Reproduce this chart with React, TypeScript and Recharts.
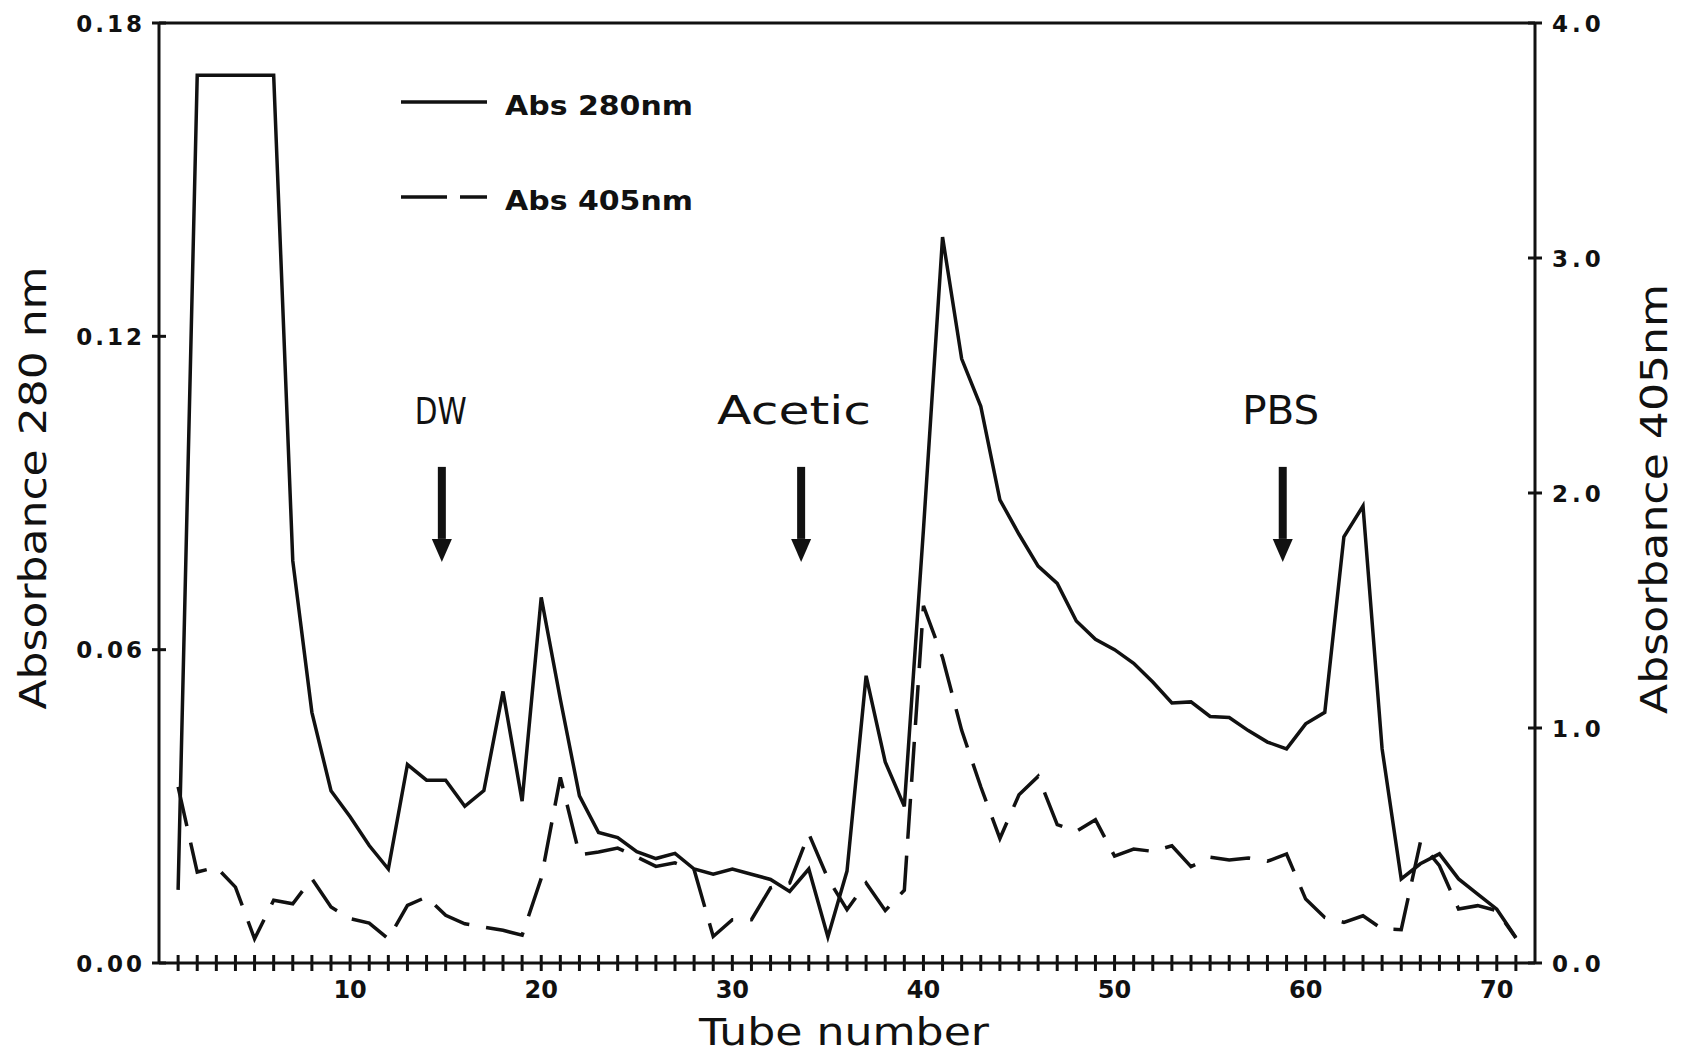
import React from 'react'
import { LineChart, Line, XAxis, YAxis, ReferenceLine, ReferenceDot } from 'recharts'

// tube numbers (x) and the two absorbance traces
const TUBES = [
  1, 2, 3, 4, 5, 6, 7, 8, 9, 10, 11, 12, 13, 14, 15, 16, 17, 18, 19, 20,
  21, 22, 23, 24, 25, 26, 27, 28, 29, 30, 31, 32, 33, 34, 35, 36, 37, 38, 39, 40,
  41, 42, 43, 44, 45, 46, 47, 48, 49, 50, 51, 52, 53, 54, 55, 56, 57, 58, 59, 60,
  61, 62, 63, 64, 65, 66, 67, 68, 69, 70, 71
]
const ABS_280 = [
  0.014, 0.170, 0.170, 0.170, 0.170, 0.170, 0.077, 0.048, 0.033, 0.028,
  0.0225, 0.018, 0.038, 0.035, 0.035, 0.030, 0.033, 0.052, 0.031, 0.070,
  0.0505, 0.032, 0.025, 0.024, 0.0213, 0.020, 0.021, 0.018, 0.017, 0.018,
  0.017, 0.016, 0.0137, 0.018, 0.005, 0.0176, 0.055, 0.0385, 0.030, 0.083,
  0.139, 0.1157, 0.1066, 0.0887, 0.0821, 0.076, 0.0727, 0.0655, 0.062, 0.060,
  0.0574, 0.0538, 0.0498, 0.050, 0.0472, 0.047, 0.0445, 0.0423, 0.041, 0.0458,
  0.048, 0.0816, 0.0875, 0.041, 0.0161, 0.019, 0.0209, 0.0161, 0.0132, 0.0103,
  0.0049
]
const ABS_405 = [
  0.749, 0.387, 0.408, 0.323, 0.103, 0.267, 0.252, 0.359, 0.238, 0.189,
  0.170, 0.103, 0.245, 0.281, 0.203, 0.167, 0.153, 0.139, 0.118, 0.360,
  0.790, 0.461, 0.472, 0.489, 0.451, 0.411, 0.426, 0.397, 0.113, 0.184,
  0.184, 0.320, 0.340, 0.550, 0.360, 0.227, 0.340, 0.223, 0.310, 1.520,
  1.300, 0.990, 0.750, 0.530, 0.716, 0.794, 0.589, 0.560, 0.610, 0.455,
  0.485, 0.475, 0.499, 0.410, 0.450, 0.438, 0.447, 0.433, 0.464, 0.272,
  0.194, 0.173, 0.201, 0.145, 0.142, 0.513, 0.414, 0.230, 0.244, 0.223,
  0.106
]
const X_LABELS = [10, 20, 30, 40, 50, 60, 70]
const LEFT_TICKS = [0, 0.06, 0.12, 0.18]
const RIGHT_TICKS = [0, 1, 2, 3, 4]

// eluent change markers (tube position, label offset in px)
const MARKERS = [
  { label: 'DW', tube: 14.8, dx: -1, width: 52, size: 37 },
  { label: 'Acetic', tube: 33.6, dx: -7, width: 154, size: 39 },
  { label: 'PBS', tube: 58.8, dx: -2, width: 77, size: 39 }
]
const MARKER_TOP = 0.095

const data = TUBES.map((tube, i) => ({ tube, a280: ABS_280[i], a405: ABS_405[i] }))

const INK = '#111'
const FONT = '"DejaVu Sans", sans-serif'

function BottomTick({ x, y, payload }: any) {
  const v = payload.value
  return (
    <g>
      <line x1={x} x2={x} y1={y - 8} y2={y + 8} stroke={INK} strokeWidth={3} />
      {X_LABELS.includes(v) && (
        <text x={x} y={y + 35} textAnchor="middle" fontFamily={FONT} fontWeight="bold" fontSize={24} fill={INK}>
          {v}
        </text>
      )}
    </g>
  )
}

function LeftTick({ x, y, payload }: any) {
  return (
    <g>
      <line x1={x - 7} x2={x + 7} y1={y} y2={y} stroke={INK} strokeWidth={3} />
      <text x={x - 14} y={y + 8.5} textAnchor="end" fontFamily={FONT} fontWeight="bold" fontSize={23} letterSpacing={3} fill={INK}>
        {payload.value.toFixed(2)}
      </text>
    </g>
  )
}

function RightTick({ x, y, payload }: any) {
  return (
    <g>
      <line x1={x - 7} x2={x + 7} y1={y} y2={y} stroke={INK} strokeWidth={3} />
      <text x={x + 17} y={y + 8.5} textAnchor="start" fontFamily={FONT} fontWeight="bold" fontSize={23} letterSpacing={4} fill={INK}>
        {payload.value.toFixed(1)}
      </text>
    </g>
  )
}

function Arrow({ cx, cy, label, dx, width, size }: any) {
  const shaft = 72
  const head = 23
  return (
    <g>
      <text x={cx + dx} y={cy - 43} textAnchor="middle" fontFamily={FONT} fontSize={size} fill={INK}
        textLength={width} lengthAdjust="spacingAndGlyphs">
        {label}
      </text>
      <rect x={cx - 4} y={cy} width={8} height={shaft} fill={INK} />
      <polygon points={`${cx - 10},${cy + shaft} ${cx + 10},${cy + shaft} ${cx},${cy + shaft + head}`} fill={INK} />
    </g>
  )
}

export default function App() {
  return (
    <div style={{ position: 'absolute', left: 0, top: 0, width: 1683, height: 1059, background: '#fff' }}>
      <LineChart width={1683} height={1059} data={data} margin={{ top: 23, right: 0, bottom: 0, left: 0 }}>
        <XAxis
          dataKey="tube"
          type="number"
          domain={[0, 72]}
          ticks={TUBES}
          interval={0}
          height={96}
          tickLine={false}
          tickSize={0}
          tickMargin={0}
          axisLine={{ stroke: INK, strokeWidth: 3 }}
          tick={(p: any) => <BottomTick {...p} />}
        />
        <YAxis
          yAxisId="left"
          orientation="left"
          width={159}
          domain={[0, 0.18]}
          ticks={LEFT_TICKS}
          interval={0}
          tickLine={false}
          tickSize={0}
          tickMargin={0}
          axisLine={{ stroke: INK, strokeWidth: 3 }}
          tick={(p: any) => <LeftTick {...p} />}
        />
        <YAxis
          yAxisId="right"
          orientation="right"
          width={148}
          domain={[0, 4]}
          ticks={RIGHT_TICKS}
          interval={0}
          tickLine={false}
          tickSize={0}
          tickMargin={0}
          axisLine={{ stroke: INK, strokeWidth: 3 }}
          tick={(p: any) => <RightTick {...p} />}
        />
        <ReferenceLine yAxisId="left" y={0.18} stroke={INK} strokeWidth={3} />
        {MARKERS.map(m => (
          <ReferenceDot
            key={m.label}
            yAxisId="left"
            x={m.tube}
            y={MARKER_TOP}
            shape={(p: any) => <Arrow cx={p.cx} cy={p.cy} label={m.label} dx={m.dx} width={m.width} size={m.size} />}
          />
        ))}
        <Line yAxisId="left" type="linear" dataKey="a280" stroke={INK} strokeWidth={3.5} dot={false} isAnimationActive={false} />
        <Line yAxisId="right" type="linear" dataKey="a405" stroke={INK} strokeWidth={3.5} strokeDasharray="40 17" dot={false} isAnimationActive={false} />
      </LineChart>

      <svg width={1683} height={1059} style={{ position: 'absolute', left: 0, top: 0, pointerEvents: 'none' }}>
        {/* legend */}
        <line x1={401} x2={487} y1={102} y2={102} stroke={INK} strokeWidth={3.5} />
        <text x={505} y={115} fontFamily={FONT} fontWeight="bold" fontSize={27} fill={INK} textLength={188} lengthAdjust="spacingAndGlyphs">
          Abs 280nm
        </text>
        <line x1={401} x2={487} y1={197} y2={197} stroke={INK} strokeWidth={3.5} strokeDasharray="46 13 27" />
        <text x={505} y={210} fontFamily={FONT} fontWeight="bold" fontSize={27} fill={INK} textLength={188} lengthAdjust="spacingAndGlyphs">
          Abs 405nm
        </text>

        {/* axis titles */}
        <text x={46} y={488} transform="rotate(-90 46 488)" textAnchor="middle" fontFamily={FONT} fontSize={37} fill={INK}
          textLength={443} lengthAdjust="spacingAndGlyphs">
          Absorbance 280 nm
        </text>
        <text x={1667} y={499} transform="rotate(-90 1667 499)" textAnchor="middle" fontFamily={FONT} fontSize={37} fill={INK}
          textLength={430} lengthAdjust="spacingAndGlyphs">
          Absorbance 405nm
        </text>
        <text x={844} y={1045} textAnchor="middle" fontFamily={FONT} fontSize={37} fill={INK}
          textLength={290} lengthAdjust="spacingAndGlyphs">
          Tube number
        </text>
      </svg>
    </div>
  )
}
